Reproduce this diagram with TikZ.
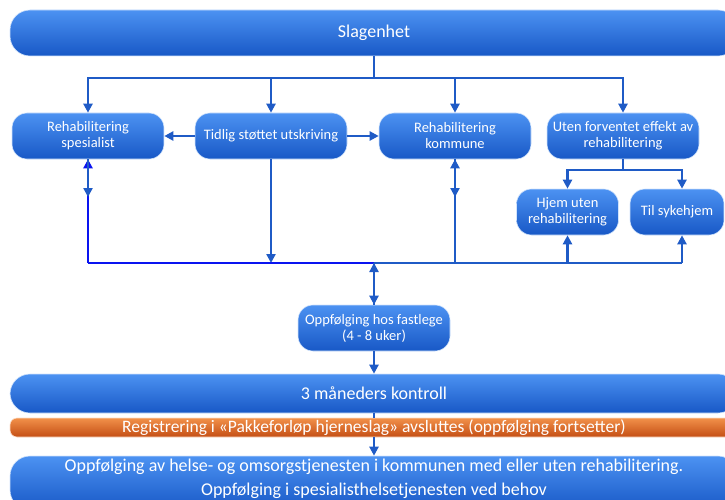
\documentclass[tikz,border=0pt]{standalone}
\usepackage{fontspec}
\setmainfont{Carlito}
\usetikzlibrary{arrows.meta}
\definecolor{btop}{HTML}{4C92F2}
\definecolor{bbot}{HTML}{1858C6}
\definecolor{otop}{HTML}{F2914A}
\definecolor{obot}{HTML}{C44E14}
\definecolor{conn}{HTML}{1F5BC6}
\definecolor{bright}{HTML}{0A14F0}
\tikzset{
  box/.style={rounded corners=15pt, top color=btop, bottom color=bbot,
    draw=white!75!btop, line width=0.6pt, text=white, align=center,
    inner sep=2pt, font=\fontsize{14.5}{16}\selectfont},
  bar/.style={box, rounded corners=20pt},
  obar/.style={rounded corners=7pt, top color=otop, bottom color=obot,
    draw=white!70!otop, line width=0.6pt, text=white, align=center, inner sep=1pt},
  cline/.style={draw=conn, line width=2.3pt},
  arr/.style={cline, -{Triangle[length=9pt,width=9pt]}},
  barr/.style={draw=bright, line width=2.3pt, -{Triangle[length=9pt,width=9pt]}},
}
\begin{document}
\begin{tikzpicture}[x=1pt,y=-1pt]
\useasboundingbox (0,0) rectangle (725,500);
% nodes
\node[bar, minimum width=728pt, minimum height=46pt, font=\fontsize{18}{20}\selectfont] (slag) at (374,33) {Slagenhet};
\node[box, minimum width=152pt, minimum height=46pt] (rs) at (88,136) {Rehabilitering\\spesialist};
\node[box, minimum width=152pt, minimum height=46pt] (tid) at (271,136) {Tidlig støttet utskriving};
\node[box, minimum width=152pt, minimum height=46pt] (rk) at (455,136) {Rehabilitering\\kommune};
\node[box, minimum width=152pt, minimum height=46pt] (uten) at (623,136) {Uten forventet effekt av\\rehabilitering};
\node[box, minimum width=102pt, minimum height=46pt] (hjem) at (567.5,212) {Hjem uten\\rehabilitering};
\node[box, minimum width=94pt, minimum height=46pt] (til) at (677,212) {Til sykehjem};
\node[box, minimum width=152pt, minimum height=46pt] (fast) at (374,328) {Oppfølging hos fastlege\\(4 - 8 uker)};
\node[bar, minimum width=728pt, minimum height=39pt, font=\fontsize{18}{20}\selectfont] (kon) at (374,393.5) {3 måneders kontroll};
\node[obar, minimum width=728pt, minimum height=19pt, font=\fontsize{17.5}{18}\selectfont] (reg) at (374,427.5) {Registrering i «Pakkeforløp hjerneslag» avsluttes (oppfølging fortsetter)};
\node[bar, minimum width=728pt, minimum height=54pt, font=\fontsize{18}{24}\selectfont, text depth=12pt] (opp) at (374,483) {Oppfølging av helse- og omsorgstjenesten i kommunen med eller uten rehabilitering.\\Oppfølging i spesialisthelsetjenesten ved behov};
% coordinates
\coordinate (j0) at (374,78);
\coordinate (j1) at (623,170);
\coordinate (busL) at (88,263);
\coordinate (busT) at (271,263);
\coordinate (busM) at (374,263);
\coordinate (busK) at (455,263);
\coordinate (busH) at (567.5,263);
\coordinate (busR) at (682,263);
\coordinate (rsMid) at (88,197);
\coordinate (rkMid) at (455,197);
% top branch
\draw[cline] (slag.south) -- (j0);
\draw[arr] (j0) -| (rs.north);
\draw[arr] (j0) -| (tid.north);
\draw[arr] (j0) -| (rk.north);
\draw[arr] (j0) -| (uten.north);
\draw[arr] (tid.west) -- (rs.east);
\draw[arr] (tid.east) -- (rk.west);
\draw[arr] (tid.south) -- (busT);
% sub branch
\draw[cline] (uten.south) -- (j1);
\draw[arr] (j1) -| (hjem.north);
\draw[arr] (j1) -| ([xshift=5pt]til.north);
% bus
\draw[draw=bright, line width=2.3pt] (busM) -- (busL);
\draw[barr] (busL) -- (rs.south);
\draw[arr] (rs.south) -- (rsMid);
\draw[cline] (busM) -- (busR);
\draw[arr] (busK) -- (rk.south);
\draw[arr] (rk.south) -- (rkMid);
\draw[arr] (busH) -- (hjem.south);
\draw[arr] (busR) -- ([xshift=5pt]til.south);
\draw[arr] (fast.north) -- (busM);
\draw[arr] (busM) -- (fast.north);
% lower chain
\draw[arr] (fast.south) -- (kon.north);
\draw[cline, line width=1.5pt] (kon.south) -- (reg.north);
\draw[arr] (reg.south) -- (opp.north);
\end{tikzpicture}
\end{document}
